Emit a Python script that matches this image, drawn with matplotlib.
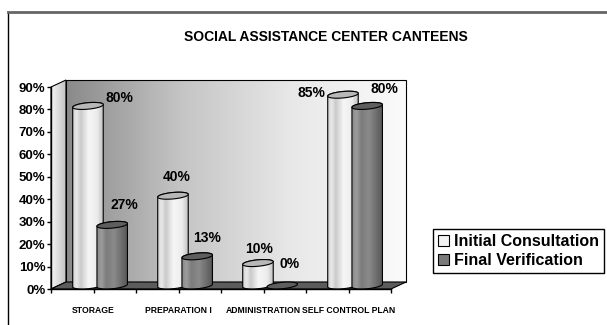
import numpy as np
import matplotlib
matplotlib.use('Agg')
import matplotlib.pyplot as plt
from matplotlib.patches import Polygon, Patch
from matplotlib.colors import LinearSegmentedColormap
from matplotlib import font_manager

# data
categories = ['STORAGE', 'PREPARATION I', 'ADMINISTRATION', 'SELF CONTROL PLAN']
initial = [80, 40, 10, 85]
final = [27, 13, 0, 80]
series_names = ['Initial Consultation', 'Final Verification']
yticks = list(range(0, 100, 10))
title = 'SOCIAL ASSISTANCE CENTER CANTEENS'

# label nudges in pixels (x, y) relative to the bar top
nudge_initial = [(31, 11.5), (3.5, 22), (1, 17.5), (-31.5, 5)]
nudge_final = [(12, 23), (10, 22), (7, 25), (17.5, 20.5)]

names = {f.name for f in font_manager.fontManager.ttflist}
if 'Liberation Sans Narrow' in names:
    cat_font, cat_size = 'Liberation Sans Narrow', 7.5
else:
    cat_font, cat_size = 'Liberation Sans', 6.2
plt.rcParams['font.family'] = ['Liberation Sans', 'DejaVu Sans']

W, H, DPI = 607, 325, 100
fig = plt.figure(figsize=(W / DPI, H / DPI), dpi=DPI)
bg = fig.add_axes([0, 0, 1, 1])
bg.set_xlim(0, W)
bg.set_ylim(0, H)
bg.axis('off')

ax = fig.add_axes([51 / W, 36 / H, 340 / W, 202 / H], zorder=3)
ax.set_xlim(0, 4)
ax.set_ylim(0, 90)
ax.patch.set_visible(False)


def px(x, y):
    return bg.transData.inverted().transform(ax.transData.transform((x, y)))


def shade(verts, cmap, z):
    verts = np.asarray(verts)
    poly = Polygon(verts, closed=True, facecolor='none', edgecolor='none')
    bg.add_patch(poly)
    im = bg.imshow(np.linspace(0, 1, 256)[None, :], cmap=cmap, aspect='auto',
                   extent=[verts[:, 0].min(), verts[:, 0].max(), verts[:, 1].min(), verts[:, 1].max()],
                   origin='lower', interpolation='bilinear', zorder=z)
    im.set_clip_path(poly)
    bg.add_patch(Polygon(verts, closed=True, fill=False, edgecolor='black', lw=0.8, zorder=z + 0.1))


wall_cmap = LinearSegmentedColormap.from_list('wall', ['#8a8a8a', '#c4c4c4', '#e8e8e8', '#fbfbfb'])
side_cmap = LinearSegmentedColormap.from_list('side', ['#f6f6f6', '#c2c2c2'])
init_cmap = LinearSegmentedColormap.from_list('init', [(0, '#d4d4d4'), (0.12, '#e8e8e8'), (0.25, '#cacaca'),
                                                       (0.5, '#f6f6f6'), (0.78, '#ececec'), (1, '#bcbcbc')])
final_cmap = LinearSegmentedColormap.from_list('final', [(0, '#8a8a8a'), (0.15, '#9c9c9c'), (0.3, '#7c7c7c'),
                                                         (0.55, '#8a8a8a'), (1, '#555555')])

D = np.array([15, 7])
p00, p40, p090, p490 = px(0, 0), px(4, 0), px(0, 90), px(4, 90)
shade([p00, p00 + D, p090 + D, p090], side_cmap, 1)
shade([p00 + D, p40 + D, p490 + D, p090 + D], wall_cmap, 1)
bg.add_patch(Polygon([p00, p40, p40 + D, p00 + D], closed=True, facecolor='#5c5c5c',
                     edgecolor='black', lw=0.8, zorder=1.5))

# cylinders
bw = 0.33
E = np.array([6, 3.5])
lift = 3.5


def cylinder(cx, v, cmap, capcol, z):
    r = (px(cx + bw / 2, 0)[0] - px(cx - bw / 2, 0)[0]) / 2
    t0 = np.arctan2(E[0], r)
    B = px(cx, 0) + [0, lift]
    T = px(cx, v) + [0, lift]

    def ell(c, t):
        return c + np.outer(np.cos(t), [r, 0]) + np.outer(np.sin(t), E)

    if v > 0:
        body = np.vstack([ell(B, np.linspace(np.pi + t0, 2 * np.pi + t0, 60)),
                          ell(T, np.linspace(t0, np.pi + t0, 60))])
        shade(body, cmap, z)
    cap = ell(T, np.linspace(0, 2 * np.pi, 90))
    bg.add_patch(Polygon(cap, closed=True, facecolor=capcol, edgecolor='black', lw=0.8, zorder=z + 0.2))


for i in range(len(categories)):
    ci, cf = i + 0.435, i + 0.72
    cylinder(ci, initial[i], init_cmap, '#b8b8b8', 2 + i)
    cylinder(cf, final[i], final_cmap, '#5e5e5e', 2.5 + i)
    for cx, v, nd in [(ci, initial[i], nudge_initial[i]), (cf, final[i], nudge_final[i])]:
        x, y = px(cx, v) + np.array(nd)
        bg.text(x, y, f'{v}%', ha='center', va='center', fontsize=10, fontweight='bold', zorder=10)

# axes styling
for s in ['top', 'right']:
    ax.spines[s].set_visible(False)
ax.spines['left'].set_linewidth(1)
ax.spines['bottom'].set_linewidth(1)
ax.set_yticks(yticks)
ax.set_yticklabels([f'{v}%' for v in yticks], fontsize=9.5, fontweight='bold')
ax.tick_params(axis='y', direction='out', length=3, width=1, pad=1)
ax.xaxis.remove_overlapping_locs = False
ax.set_xticks(np.arange(0, 4.01, 0.5))
ax.set_xticklabels([])
ax.tick_params(axis='x', which='major', direction='out', length=3, width=1)
ax.set_xticks(np.arange(len(categories)) + 0.5, minor=True)
ax.set_xticklabels(categories, minor=True, fontsize=cat_size, fontweight='bold', family=cat_font)
ax.tick_params(axis='x', which='minor', length=0, pad=12.5)

fig.text(326 / W, 1 - 37 / H, title, ha='center', va='center', fontsize=10, fontweight='bold')

handles = [Patch(facecolor='#f2f2f2', edgecolor='black', lw=0.8),
           Patch(facecolor='#7a7a7a', edgecolor='black', lw=0.8)]
leg = fig.legend(handles, series_names, loc='center left', bbox_to_anchor=(433 / W, 1 - 251 / H),
                 fancybox=False, framealpha=1, edgecolor='black', borderpad=0.3,
                 handlelength=0.7, handleheight=0.7, handletextpad=0.3, labelspacing=0.25,
                 borderaxespad=0, prop={'size': 11.5, 'weight': 'bold'})
leg.get_frame().set_linewidth(1.0)

# outer frame
bg.plot([8, 8], [0, 313], color='black', lw=1)
bg.plot([8, W], [313, 313], color='#666666', lw=2)
bg.set_xlim(0, W)
bg.set_ylim(0, H)

fig.savefig('out.png', dpi=DPI)
